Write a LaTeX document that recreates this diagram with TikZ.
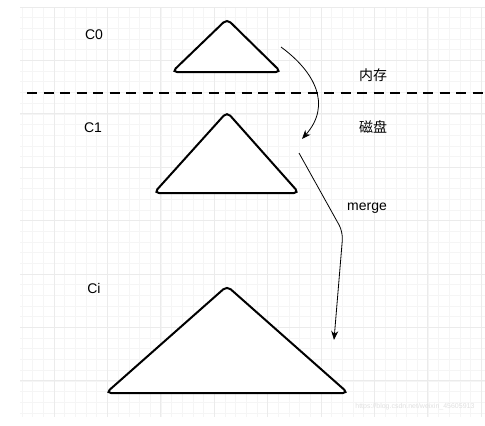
\documentclass[tikz,border=0pt]{standalone}
\usepackage{fontspec}
\setmainfont{Liberation Sans}
\newfontfamily\cjk{Noto Sans CJK SC}
\usetikzlibrary{arrows.meta,positioning}

\begin{document}
\begin{tikzpicture}[x=1pt,y=-1pt,
        albero/.style={line width=2pt, rounded corners=5pt, fill=white},
        freccia/.style={line width=0.8pt, -{Stealth[length=9pt,width=7pt]}},
        etichetta/.style={font=\fontsize{14}{16}\selectfont}]
    \useasboundingbox (0,0) rectangle (485,426);

    % Griglia
    \begin{scope}
        \clip (20,7) rectangle (485,417);
        \foreach \k in {0,...,43}
        \draw[black!4, line width=0.6pt] ({22+10.68*\k},7) -- ({22+10.68*\k},417);
        \foreach \k in {0,...,38}
        \draw[black!4, line width=0.6pt] (20,{7+10.68*\k}) -- (485,{7+10.68*\k});
        \foreach \k in {0,...,8}
        \draw[black!8, line width=0.8pt] ({54+53.4*\k},7) -- ({54+53.4*\k},417);
        \foreach \k in {0,...,7}
        \draw[black!8, line width=0.8pt] (20,{7+53.4*\k}) -- (485,{7+53.4*\k});
    \end{scope}

    % Linea tratteggiata
    \coordinate (sx) at (27,93);
    \coordinate (dx) at (485,93);
    \draw[line width=2.5pt, dash pattern=on 10pt off 6.5pt] (sx) -- (dx);

    % Alberi
    \draw[albero] (227,19) -- (281,72) -- (172,72) -- cycle;
    \draw[albero] (227,112) -- (299,193) -- (154,193) -- cycle;
    \draw[albero] (227,286) -- (348,393) -- (106,393) -- cycle;

    % Etichette
    \node[etichetta] (c0) at (94,35) {C0};
    \node[etichetta] (c1) at (93,128) {C1};
    \node[etichetta] (ci) at (94,288) {Ci};
    \node[etichetta] (memoria) at (373,75) {\cjk 内存};
    \node[etichetta] (disco) at (373,127) {\cjk 磁盘};
    \node[etichetta] (merge) at (367,208) {merge};
    \node[font=\fontsize{7}{8}\selectfont, text=black!12, anchor=east] (marca) at (478,407) {https://blog.csdn.net/weixin\_45605913};

    % Frecce
    \coordinate (a0) at (281,47);
    \coordinate (a1) at (302,139);
    \draw[freccia] (a0) .. controls (315,72) and (332,105) .. (a1);

    \coordinate (m0) at (299,153);
    \coordinate (m1) at (343,232);
    \coordinate (m2) at (334,340);
    \draw[freccia, rounded corners=8pt] (m0) -- (m1) -- (m2);
\end{tikzpicture}
\end{document}
